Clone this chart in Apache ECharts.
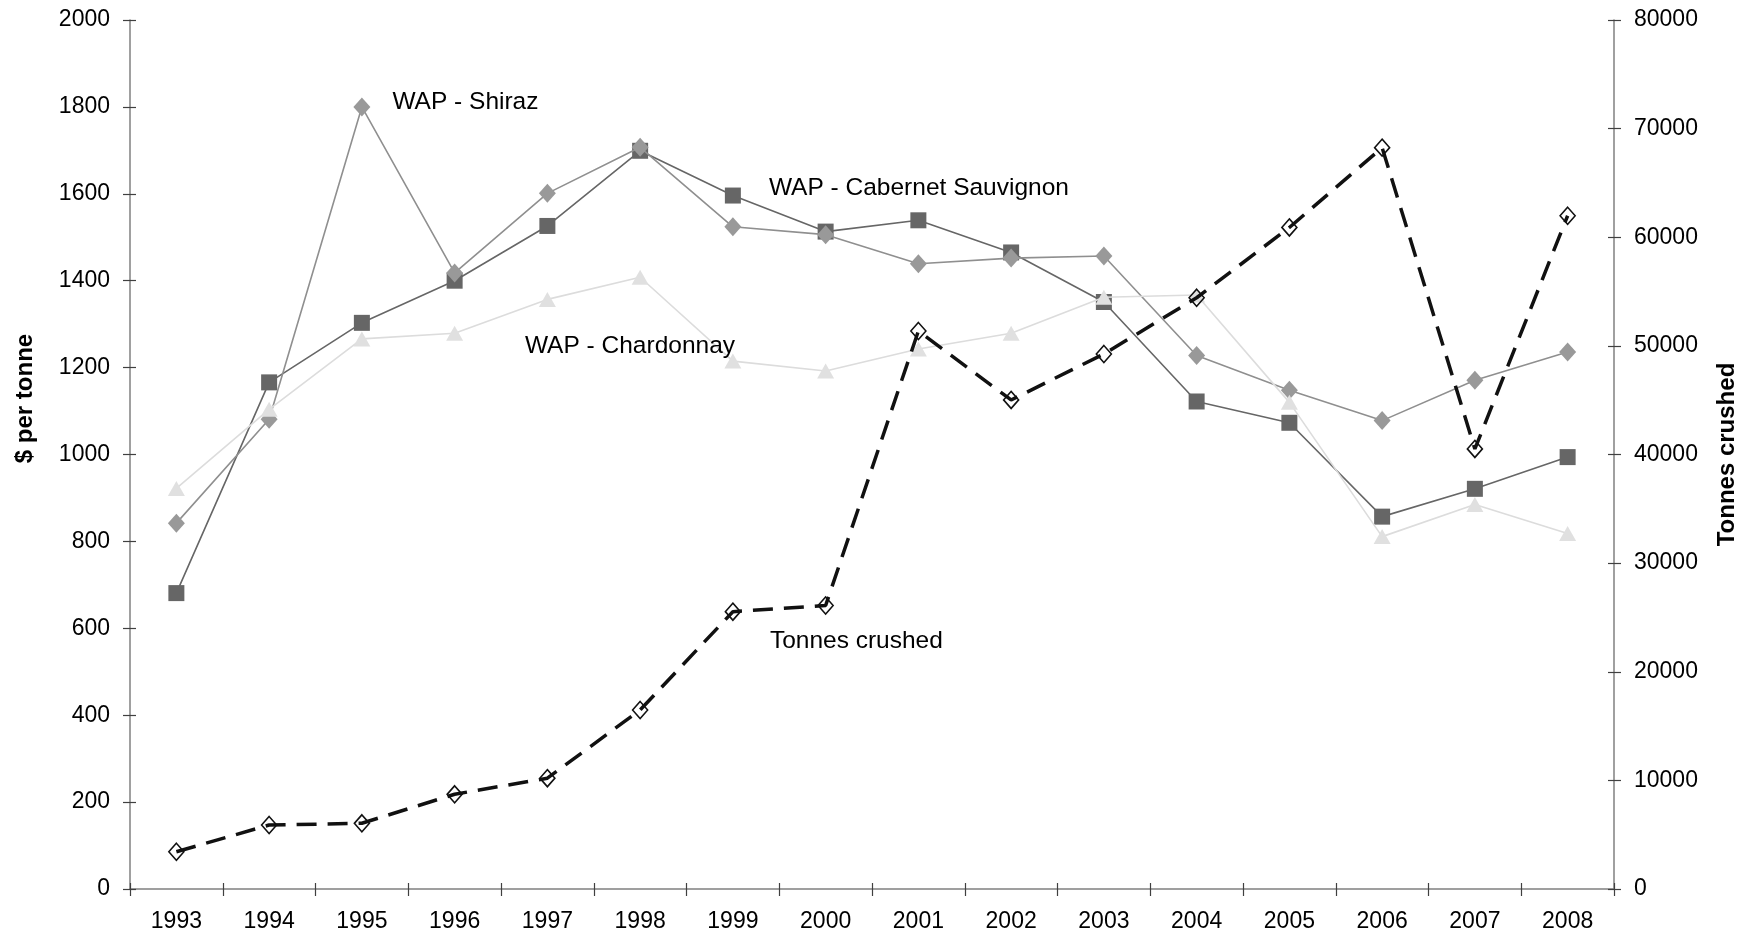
<!DOCTYPE html>
<html>
<head>
<meta charset="utf-8">
<script src="https://cdn.jsdelivr.net/npm/echarts@6/dist/echarts.min.js"></script>
<style>html,body{margin:0;padding:0;background:#fff;}#c{width:1752px;height:938px;}</style>
</head>
<body>
<div id="c"></div>
<script>
const years = ['1993','1994','1995','1996','1997','1998','1999','2000','2001','2002','2003','2004','2005','2006','2007','2008'];
const cabernet = [681, 1166, 1303, 1400, 1526, 1699, 1596, 1513, 1539, 1465, 1351, 1122, 1073, 857, 921, 994];
const shiraz = [842, 1081, 1800, 1418, 1601, 1707, 1524, 1506, 1439, 1452, 1457, 1228, 1148, 1078, 1171, 1236];
const chardonnay = [922, 1104, 1266, 1279, 1357, 1408, 1215, 1192, 1243, 1279, 1362, 1367, 1120, 811, 885, 818];
const tonnes = [3430, 5890, 6050, 8720, 10200, 16480, 25530, 26100, 51370, 45020, 49250, 54430, 60900, 68250, 40510, 61980];
const leftTicks = {min: 0, max: 2000, interval: 200};
const rightTicks = {min: 0, max: 80000, interval: 10000};

const FONT = '"Liberation Sans", Arial, Helvetica, sans-serif';
const labelStyle = {fontFamily: FONT, fontSize: 24.5, color: '#000'};

function withLabel(arr, idx, text, offset) {
  return arr.map((v, i) => i === idx ? {
    value: v,
    label: {show: true, formatter: text, position: 'right', distance: 0, offset: offset, ...labelStyle}
  } : v);
}

const chart = echarts.init(document.getElementById('c'), null, {renderer: 'canvas'});
const axisLine = {show: true, lineStyle: {color: '#808080', width: 1.5}};
const tickLine = {color: '#404040', width: 1.2};
const axisTick = {show: true, length: 7, lineStyle: tickLine};
const innerTick = {show: true, inside: true, length: 6, lineStyle: tickLine};
const plain = v => String(v);

chart.setOption({
  animation: false,
  backgroundColor: '#fff',
  grid: {left: 130, right: 138, top: 20, bottom: 49, containLabel: false},
  xAxis: [
    {
      type: 'category', data: years, boundaryGap: true, position: 'bottom',
      axisLine: axisLine,
      axisTick: axisTick,
      axisLabel: {fontFamily: FONT, fontSize: 23, color: '#000', margin: 21},
      splitLine: {show: false}
    },
    {
      type: 'category', data: years, boundaryGap: true, position: 'bottom',
      axisLine: {show: false}, axisTick: innerTick, axisLabel: {show: false}, splitLine: {show: false}
    }
  ],
  yAxis: [
    {
      type: 'value', position: 'left', ...leftTicks,
      name: '$ per tonne', nameLocation: 'middle', nameRotate: 90, nameGap: 93,
      nameTextStyle: {fontFamily: FONT, fontSize: 24, fontWeight: 'bold', color: '#000', padding: [0, 0, 0, 112]},
      axisLine: axisLine, axisTick: axisTick,
      axisLabel: {fontFamily: FONT, fontSize: 23, color: '#000', margin: 20, formatter: plain},
      splitLine: {show: false}
    },
    {
      type: 'value', position: 'right', ...rightTicks,
      name: 'Tonnes crushed', nameLocation: 'middle', nameRotate: 90, nameGap: 101,
      nameTextStyle: {fontFamily: FONT, fontSize: 24, fontWeight: 'bold', color: '#000'},
      axisLine: axisLine, axisTick: axisTick,
      axisLabel: {fontFamily: FONT, fontSize: 23, color: '#000', margin: 20, formatter: plain},
      splitLine: {show: false}
    },
    {
      type: 'value', position: 'left', ...leftTicks,
      axisLine: {show: false}, axisTick: innerTick, axisLabel: {show: false}, splitLine: {show: false}
    },
    {
      type: 'value', position: 'right', ...rightTicks,
      axisLine: {show: false}, axisTick: innerTick, axisLabel: {show: false}, splitLine: {show: false}
    }
  ],
  series: [
    {
      name: 'WAP - Cabernet Sauvignon', type: 'line', yAxisIndex: 0,
      data: withLabel(cabernet, 6, 'WAP - Cabernet Sauvignon', [28, -7]),
      symbol: 'rect', symbolSize: 16,
      itemStyle: {color: '#666666'},
      lineStyle: {color: '#666666', width: 1.6},
      z: 2
    },
    {
      name: 'WAP - Shiraz', type: 'line', yAxisIndex: 0,
      data: withLabel(shiraz, 2, 'WAP - Shiraz', [22, -5]),
      symbol: 'diamond', symbolSize: [17, 19],
      itemStyle: {color: '#999999'},
      lineStyle: {color: '#8f8f8f', width: 1.6},
      z: 3
    },
    {
      name: 'WAP - Chardonnay', type: 'line', yAxisIndex: 0,
      data: withLabel(chardonnay, 4, 'WAP - Chardonnay', [-31, 47]),
      symbol: 'triangle', symbolSize: [17, 15],
      itemStyle: {color: '#e0e0e0'},
      lineStyle: {color: '#dcdcdc', width: 1.6},
      z: 4
    },
    {
      name: 'Tonnes crushed', type: 'line', yAxisIndex: 1,
      data: withLabel(tonnes, 7, 'Tonnes crushed', [-64, 36]),
      symbol: 'diamond', symbolSize: [15, 17],
      itemStyle: {color: 'rgba(255,255,255,0)', borderColor: '#111', borderWidth: 1.6},
      lineStyle: {color: '#111', width: 3.5, type: [20, 11]},
      z: 5
    }
  ]
});
</script>
</body>
</html>
